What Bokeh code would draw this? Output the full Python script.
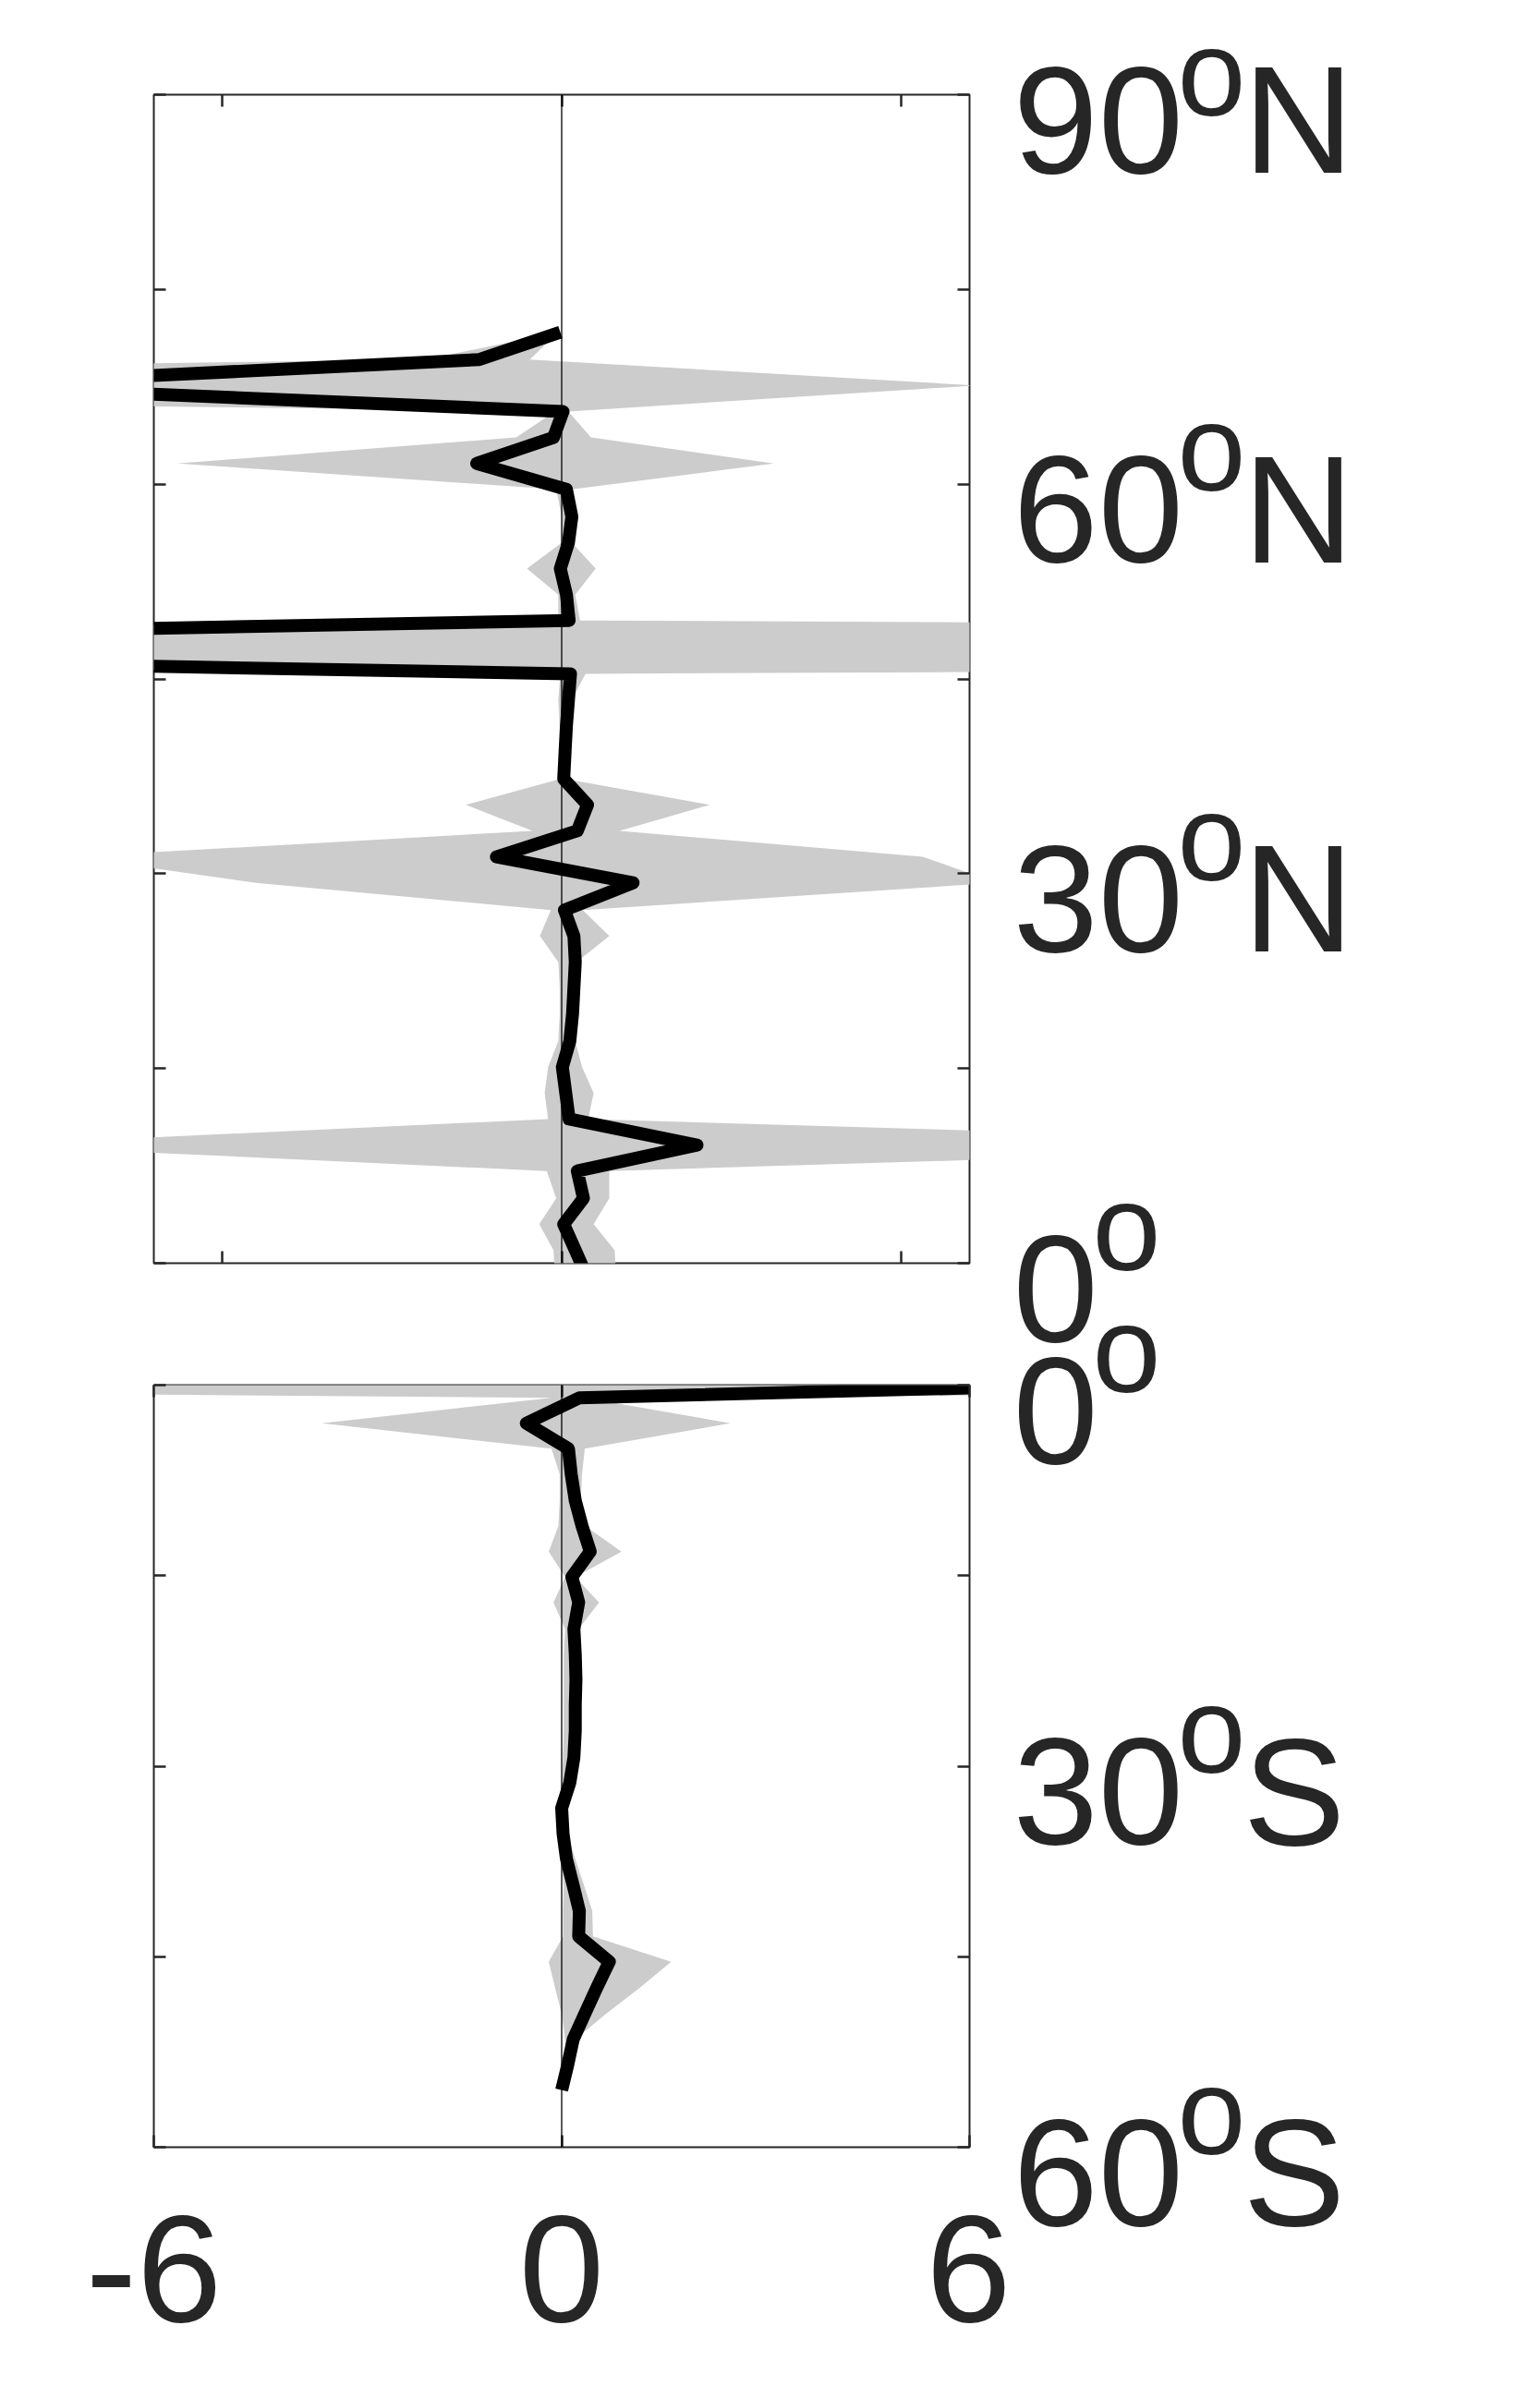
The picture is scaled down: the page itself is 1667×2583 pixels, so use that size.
from bokeh.plotting import figure
from bokeh.models import Range1d, FixedTicker, LinearAxis, Span, Label
from bokeh.layouts import column, row
from bokeh.embed import file_html
from bokeh.resources import INLINE

# ---------------- data ----------------
lat_north = [-1.0, 1.0, 3.0, 5.0, 7.1, 9.1, 11.1, 13.1, 15.1, 17.1, 19.2, 21.2, 23.2,
             25.2, 27.2, 29.3, 31.3, 33.3, 35.3, 37.3, 39.4, 41.4, 43.4, 45.4, 47.4,
             49.5, 51.5, 53.5, 55.5, 57.5, 59.6, 61.6, 63.6, 65.6, 67.6, 69.6, 71.7]
mean_north = [0.37, 0.2, 0.03, 0.32, 0.23, 1.99, 0.11, 0.06, 0.01, 0.12, 0.16, 0.18, 0.2,
              0.18, 0.04, 1.05, -0.96, 0.23, 0.38, 0.03, 0.05, 0.07, 0.1, 0.13, -21.4,
              0.11, 0.07, -0.02, 0.1, 0.15, 0.07, -1.25, -0.12, 0.02, -9.0, -1.21, -0.02]
low_north = [-0.1, -0.12, -0.33, -0.08, -0.22, -8.45, -0.2, -0.25, -0.2, -0.05, -0.03, -0.03, -0.05,
             -0.32, -0.16, -4.5, -7.2, -0.43, -1.41, -0.02, -0.03, -0.03, -0.05, -0.02, -40.0,
             -0.05, -0.05, -0.51, 0.0, 0.0, -0.08, -5.66, -0.67, -0.1, -30.0, -2.0, -0.05]
high_north = [0.8, 0.78, 0.47, 0.7, 0.7, 13.3, 0.39, 0.47, 0.3, 0.2, 0.2, 0.2, 0.22,
              0.7, 0.31, 6.4, 5.31, 0.85, 2.18, 0.05, 0.1, 0.1, 0.15, 0.35, 90.0,
              0.27, 0.2, 0.5, 0.15, 0.15, 0.15, 3.12, 0.43, 0.1, 6.1, -0.47, -0.05]

lat_south = [1.0, -1.0, -3.0, -5.0, -7.0, -9.1, -11.1, -13.1, -15.1, -17.1, -19.2, -21.2,
             -23.2, -25.2, -27.2, -29.3, -31.3, -33.3, -35.3, -37.3, -39.4, -41.4, -43.4,
             -45.4, -47.4, -49.5, -51.5, -53.5, -55.5]
mean_south = [15.0, 0.26, -0.52, 0.1, 0.14, 0.2, 0.3, 0.42, 0.15, 0.25, 0.18, 0.2,
              0.21, 0.2, 0.2, 0.18, 0.12, 0.0, 0.02, 0.07, 0.17, 0.26, 0.25,
              0.7, 0.52, 0.34, 0.17, 0.09, 0.0]
low_south = [-46.0, -0.15, -3.53, -0.15, -0.03, -0.03, -0.05, -0.19, 0.05, -0.12, 0.05, 0.03,
             0.03, 0.03, 0.03, 0.02, 0.0, -0.05, -0.03, 0.0, 0.03, 0.02, 0.02,
             -0.19, -0.1, 0.0, 0.05, 0.09, 0.0]
high_south = [60.0, 0.35, 2.48, 0.34, 0.3, 0.28, 0.35, 0.88, 0.2, 0.55, 0.25, 0.25,
              0.25, 0.25, 0.25, 0.22, 0.18, 0.05, 0.08, 0.2, 0.33, 0.45, 0.46,
              1.61, 1.16, 0.65, 0.2, 0.09, 0.0]

north_yticks = [0, 15, 30, 45, 60, 75, 90]
south_yticks = [-60, -45, -30, -15, 0]
north_xticks = [-5, 0, 5]
south_xticks = [-6, 0, 6]
south_xtick_labels = {-6: "-6", 0: "0", 6: "6"}
north_lat_labels = [(90, "90", "N"), (60, "60", "N"), (30, "30", "N"), (0, "0", "")]
south_lat_labels = [(0, "0", ""), (-30, "30", "S"), (-60, "60", "S")]

# ---------------- layout constants ----------------
FRAME_W = 883
H1, H2 = 1265, 825
LEFT, RIGHT = 166, 45
TOP1, BOT1, TOP2, BOT2 = 102, 66, 66, 255
LABEL_W = 520
TOTAL_H = TOP1 + H1 + BOT1 + TOP2 + H2 + BOT2
INK = "#262626"
GREY = "#cccccc"
FONT = "Liberation Sans"
BIG = "166px"
SUP = "133px"
NUM_DY, SUP_DY = -27, 39
TOP_SUP_EXTRA = -15   # keeps the topmost superscript inside the page


def style_axis(ax, labels=False):
    ax.axis_line_color = None
    ax.major_tick_in = 13
    ax.major_tick_out = 0
    ax.major_tick_line_color = INK
    ax.major_tick_line_width = 2.5
    ax.minor_tick_line_color = None
    if labels:
        ax.major_label_text_font = FONT
        ax.major_label_text_font_size = BIG
        ax.major_label_text_color = INK
        ax.major_label_standoff = 74
    else:
        ax.major_label_text_font_size = "8px"
        ax.major_label_text_color = None
        ax.major_label_standoff = 0


def make_panel(ylo, yhi, lat, mean, low, high, yticks, xticks, top, bottom, h, xlabels):
    p = figure(frame_width=FRAME_W, frame_height=h,
               x_range=Range1d(-6, 6), y_range=Range1d(ylo, yhi),
               x_axis_type=None, y_axis_type=None,
               output_backend="svg", toolbar_location=None,
               min_border_left=LEFT, min_border_right=RIGHT,
               min_border_top=top, min_border_bottom=bottom)
    p.outline_line_color = INK
    p.outline_line_width = 2
    p.background_fill_color = "white"
    p.border_fill_color = "white"
    p.harea(x1=low, x2=high, y=lat, fill_color=GREY, fill_alpha=1.0)
    p.line(x=mean, y=lat, line_color="black", line_width=14, line_join="round")
    p.add_layout(Span(location=0, dimension="height", line_color="black", line_width=1.3))
    for side in ("below", "above"):
        ax = LinearAxis(ticker=FixedTicker(ticks=xticks))
        style_axis(ax, labels=(xlabels and side == "below"))
        if xlabels and side == "below":
            ax.major_label_overrides = south_xtick_labels
        p.add_layout(ax, side)
    for side in ("left", "right"):
        ax = LinearAxis(ticker=FixedTicker(ticks=yticks))
        style_axis(ax)
        p.add_layout(ax, side)
    return p


p1 = make_panel(0, 90, lat_north, mean_north, low_north, high_north,
                north_yticks, north_xticks, TOP1, BOT1, H1, False)
p2 = make_panel(-60, 0, lat_south, mean_south, low_south, high_south,
                south_yticks, south_xticks, TOP2, BOT2, H2, True)

# label strip on the right, sharing the latitude mapping of both panels
ppd_n = H1 / 90.0
ppd_s = H2 / 60.0
off_s = TOP1 + H1 + BOT1 + TOP2
north_range = Range1d(90 - (TOTAL_H - TOP1) / ppd_n, 90 + TOP1 / ppd_n)
south_range = Range1d(-(TOTAL_H - off_s) / ppd_s, off_s / ppd_s)

p3 = figure(frame_width=LABEL_W, frame_height=TOTAL_H,
            x_range=Range1d(0, LABEL_W), y_range=north_range,
            x_axis_type=None, y_axis_type=None,
            output_backend="svg", toolbar_location=None, min_border=0)
p3.extra_y_ranges = {"south": south_range}
p3.outline_line_color = None
p3.background_fill_color = "white"
p3.border_fill_color = "white"

NUM_X, O_X1, O_X2, LET_X = 2, 88, 180, 251


def add_lat_label(tick, num, letter, rng, sup_dy):
    kw = dict(text_font=FONT, text_color=INK, text_baseline="alphabetic", text_align="left")
    if rng != "default":
        kw["y_range_name"] = rng
    p3.add_layout(Label(x=NUM_X, y=tick, text=num, text_font_size=BIG, y_offset=NUM_DY, **kw))
    ox = O_X2 if len(num) == 2 else O_X1
    p3.add_layout(Label(x=ox, y=tick, text="o", text_font_size=SUP, y_offset=sup_dy, **kw))
    if letter:
        p3.add_layout(Label(x=LET_X, y=tick, text=letter, text_font_size=BIG, y_offset=NUM_DY, **kw))


for i, (tick, num, letter) in enumerate(north_lat_labels):
    add_lat_label(tick, num, letter, "default", SUP_DY + (TOP_SUP_EXTRA if i == 0 else 0))
for tick, num, letter in south_lat_labels:
    add_lat_label(tick, num, letter, "south", SUP_DY)

layout = row(column(p1, p2), p3)
open("out.html", "w").write(file_html(layout, INLINE))
